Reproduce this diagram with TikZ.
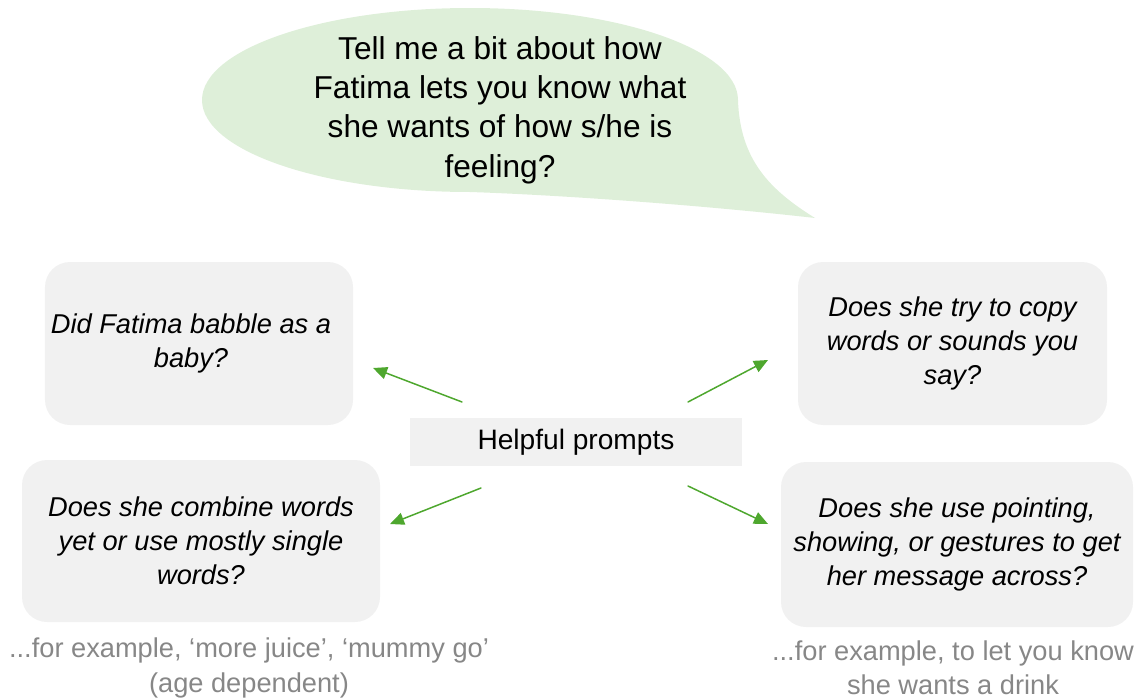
\documentclass[tikz,border=0pt]{standalone}
\usepackage{fontspec}
\setmainfont{Liberation Sans}
\usetikzlibrary{arrows.meta}
\definecolor{bubblegreen}{RGB}{222,239,217}
\definecolor{boxgray}{RGB}{241,241,241}
\definecolor{arrowgreen}{RGB}{78,167,46}
\definecolor{notegray}{RGB}{135,135,135}
\begin{document}
\begin{tikzpicture}[line join=round, line cap=round,
		question/.style={fill=boxgray, rounded corners=0.5cm, align=center, inner sep=0pt,
			font=\fontsize{15.5}{19.3}\selectfont\itshape},
		note/.style={align=center, text=notegray, inner sep=0pt, font=\fontsize{15.5}{19.6}\selectfont},
		pointer/.style={draw=arrowgreen, line width=0.85pt, -{Triangle[length=8pt,width=7pt]}}]
			\useasboundingbox (0,0) rectangle (22.82,-14);
			% speech bubble
			\fill[bubblegreen] (9.4,-2) ellipse (5.36 and 1.84);
			\fill[bubblegreen] (14.76,-2) .. controls (14.8,-3.2) and (15.4,-3.8) .. (16.3,-4.36) .. controls (14,-4.1) and (11.2,-3.9) .. (9.4,-3.84) -- (9.4,-2) -- cycle;
			\node[align=center, font=\fontsize{18}{22.4}\selectfont] (ask) at (10,-2.2) {Tell me a bit about how\\Fatima lets you know what\\she wants of how s/he is\\feeling?};
			% prompt boxes
			\node[question, minimum width=6.16cm, minimum height=3.26cm] (babble) at (3.98,-6.87) {};
			\node[question, fill=none] (babbletext) at (3.82,-6.87) {Did Fatima babble as a\\baby?};
			\node[question, minimum width=6.18cm, minimum height=3.26cm] (copy) at (19.05,-6.87) {Does she try to copy\\words or sounds you\\say?};
			\node[question, minimum width=7.16cm, minimum height=3.24cm] (combine) at (4.02,-10.82) {Does she combine words\\yet or use mostly single\\words?};
			\node[question, minimum width=7.04cm, minimum height=3.3cm] (gesture) at (19.14,-10.89) {Does she use pointing,\\showing, or gestures to get\\her message across?};
			\node[fill=boxgray, minimum width=6.64cm, minimum height=0.96cm, font=\fontsize{16}{19}\selectfont] (prompts) at (11.52,-8.84) {Helpful prompts};
			% examples
			\node[note] (juice) at (4.98,-13.36) {...for example, ‘more juice’, ‘mummy go’\\(age dependent)};
			\node[note] (drink) at (19.06,-13.36) {...for example, to let you know\\she wants a drink};
			% arrows
			\coordinate (from1) at (9.24,-8.04); \coordinate (to1) at (7.46,-7.36);
			\coordinate (from2) at (13.76,-8.04); \coordinate (to2) at (15.36,-7.2);
			\coordinate (from3) at (9.62,-9.76); \coordinate (to3) at (7.8,-10.48);
			\coordinate (from4) at (13.76,-9.72); \coordinate (to4) at (15.36,-10.48);
			\foreach \i in {1,...,4} \draw[pointer] (from\i)--(to\i);
		\end{tikzpicture}
\end{document}
